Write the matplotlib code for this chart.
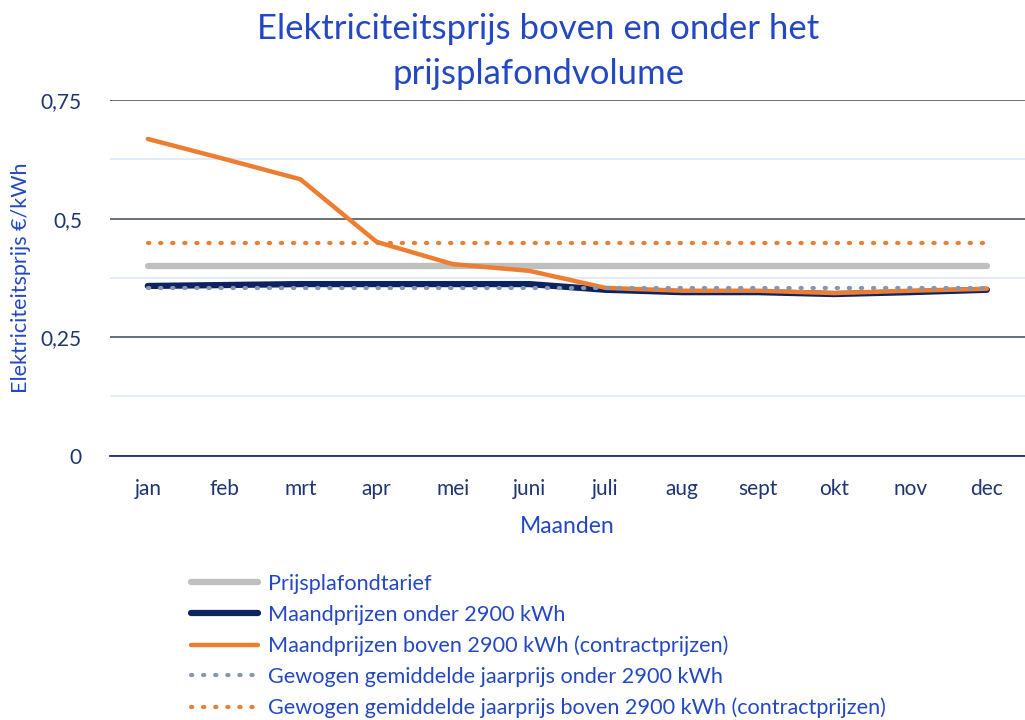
import numpy as np
import matplotlib
matplotlib.use("Agg")
import matplotlib.pyplot as plt

# data ______________________________
maanden = ["jan", "feb", "mrt", "apr", "mei", "juni", "juli", "aug", "sept", "okt", "nov", "dec"]
plafond = [0.40] * 12
onder = [0.358, 0.360, 0.362, 0.362, 0.362, 0.362, 0.350, 0.345, 0.345, 0.341, 0.345, 0.350]
boven = [0.668, 0.626, 0.583, 0.451, 0.404, 0.390, 0.354, 0.348, 0.348, 0.343, 0.348, 0.352]
gem_onder = [0.354] * 12
gem_boven = [0.449] * 12

yticks = [0, 0.25, 0.5, 0.75]
ytick_labels = ["0", "0,25", "0,5", "0,75"]

title_blue = "#2448c4"
tick_navy = "#1f3572"

plt.rcParams['font.family'] = ['Lato', 'DejaVu Sans']

fig = plt.figure(figsize=(10.25, 7.2), dpi=100)
ax = fig.add_axes([0.107, 0.367, 0.893, 0.494])

x = np.arange(len(maanden))

ax.plot(x, plafond, color="#bfbfbf", lw=4.5, solid_capstyle="round", label="Prijsplafondtarief", zorder=3)
ax.plot(x, onder, color="#0d2261", lw=4.5, solid_capstyle="round", label="Maandprijzen onder 2900 kWh", zorder=4)
ax.plot(x, boven, color="#ed7d31", lw=3.2, solid_capstyle="round", label="Maandprijzen boven 2900 kWh (contractprijzen)", zorder=5)
ax.plot(x, gem_onder, color="#8497b0", lw=3, ls=(0, (0.3, 2.6)), dash_capstyle="round",
        label="Gewogen gemiddelde jaarprijs onder 2900 kWh", zorder=6)
ax.plot(x, gem_boven, color="#ed7d31", lw=3, ls=(0, (0.3, 2.6)), dash_capstyle="round",
        label="Gewogen gemiddelde jaarprijs boven 2900 kWh (contractprijzen)", zorder=6)

ax.set_xlim(-0.5, len(maanden) - 0.5)
ax.set_ylim(0, 0.75)
ax.set_yticks(yticks)
ax.set_yticklabels(ytick_labels)
ax.set_yticks([0.125, 0.375, 0.625], minor=True)
ax.set_xticks(x)
ax.set_xticklabels(maanden)

ax.grid(axis="y", which="major", color="#5a6373", lw=1.3)
ax.grid(axis="y", which="minor", color="#dde8fb", lw=1.2)
ax.set_axisbelow(True)
for s in ["top", "right", "left"]:
    ax.spines[s].set_visible(False)
ax.spines["bottom"].set_color("#1f3572")
ax.spines["bottom"].set_linewidth(1.3)
ax.tick_params(axis="both", which="both", length=0, labelsize=15, labelcolor=tick_navy)
ax.tick_params(axis="x", pad=17)
ax.tick_params(axis="y", pad=20)

ax.set_xlabel("Maanden", fontsize=16.5, color=title_blue, labelpad=12)
ax.set_ylabel("Elektriciteitsprijs €/kWh", fontsize=15.5, color=title_blue)
ax.yaxis.set_label_coords(-0.086, 0.5)
fig.text(0.525, 0.929, "Elektriciteitsprijs boven en onder het\nprijsplafondvolume",
         ha="center", va="center", fontsize=25, color=title_blue, linespacing=1.5)

leg = fig.legend(loc="upper left", bbox_to_anchor=(0.178, 0.215), frameon=False,
                 fontsize=15.6, handlelength=3.1, handletextpad=0.45, labelspacing=0.5,
                 borderaxespad=0)
for t in leg.get_texts():
    t.set_color(title_blue)

fig.savefig("out.png", dpi=100)
